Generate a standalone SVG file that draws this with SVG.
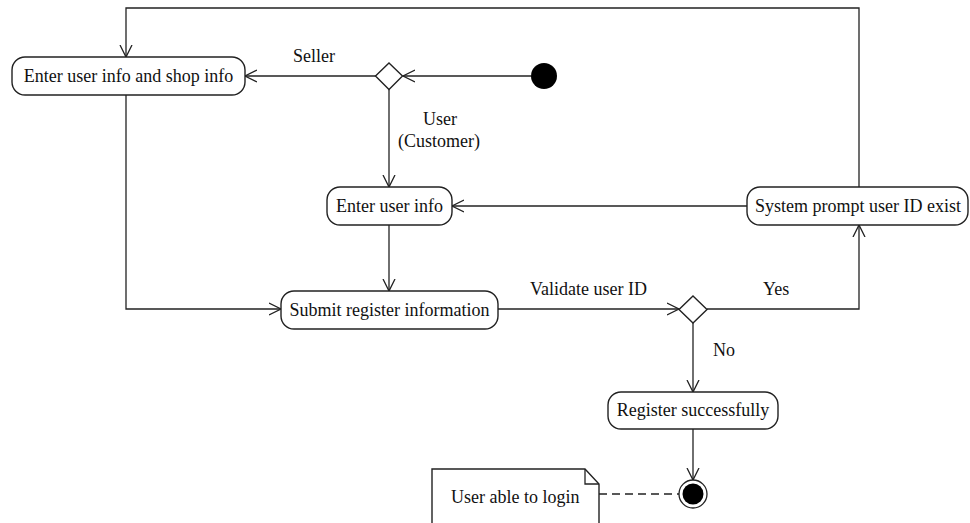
<svg xmlns="http://www.w3.org/2000/svg" width="970" height="523" viewBox="0 0 970 523">
<defs>
<marker id="arr" markerWidth="14" markerHeight="14" refX="12" refY="7" orient="auto" markerUnits="userSpaceOnUse">
<path d="M0,1 L12,7 L0,13" fill="none" stroke="#222" stroke-width="1.3"/>
</marker>
<style>
.n{fill:#fff;stroke:#222;stroke-width:1.4}
.t{font-family:"Liberation Serif","Times New Roman",serif;font-size:18px;fill:#111}
.c{fill:none;stroke:#222;stroke-width:1.3}
</style>
</defs>
<rect width="970" height="523" fill="#fff"/>
<g id="connectors">
<path class="c" d="M859,187 V8 H126 V57" marker-end="url(#arr)"/>
<path class="c" d="M531,76 H403" marker-end="url(#arr)"/>
<path class="c" d="M376,76 H245" marker-end="url(#arr)"/>
<path class="c" d="M389,89 V187" marker-end="url(#arr)"/>
<path class="c" d="M389,225 V291" marker-end="url(#arr)"/>
<path class="c" d="M126,95 V309 H281" marker-end="url(#arr)"/>
<path class="c" d="M498,309 H679" marker-end="url(#arr)"/>
<path class="c" d="M707,309 H859 V225" marker-end="url(#arr)"/>
<path class="c" d="M747,206 H452" marker-end="url(#arr)"/>
<path class="c" d="M693,323 V392" marker-end="url(#arr)"/>
<path class="c" d="M693,429 V480" marker-end="url(#arr)"/>
<path class="c" d="M599,494 H679" stroke-dasharray="8,5"/>
<text class="t" x="293" y="62">Seller</text>
<text class="t" x="423" y="125">User</text>
<text class="t" x="398" y="147">(Customer)</text>
<text class="t" x="530" y="295">Validate user ID</text>
<text class="t" x="763" y="295">Yes</text>
<text class="t" x="713" y="356">No</text>
</g>
<g id="start">
<circle cx="544" cy="76" r="13" fill="#000"/>
</g>
<g id="decision1">
<polygon class="n" points="389,63 402.5,76 389,89.5 375.5,76"/>
</g>
<g id="node-shop">
<rect class="n" x="12" y="57" width="233" height="38" rx="13"/>
<text class="t" x="128.5" y="82" text-anchor="middle">Enter user info and shop info</text>
</g>
<g id="node-user">
<rect class="n" x="327" y="187" width="125" height="38" rx="13"/>
<text class="t" x="389.5" y="212" text-anchor="middle">Enter user info</text>
</g>
<g id="node-submit">
<rect class="n" x="281" y="291" width="217" height="38" rx="13"/>
<text class="t" x="389.5" y="316" text-anchor="middle">Submit register information</text>
</g>
<g id="node-prompt">
<rect class="n" x="747" y="187" width="221" height="38" rx="13"/>
<text class="t" x="858" y="212" text-anchor="middle">System prompt user ID exist</text>
</g>
<g id="decision2">
<polygon class="n" points="693,296 707,309.5 693,323 679,309.5"/>
</g>
<g id="node-register">
<rect class="n" x="608" y="392" width="170" height="37" rx="13"/>
<text class="t" x="693" y="416" text-anchor="middle">Register successfully</text>
</g>
<g id="end">
<circle cx="693" cy="494" r="14" fill="#fff" stroke="#222" stroke-width="1.3"/>
<circle cx="693" cy="494" r="10.5" fill="#000"/>
</g>
<g id="note">
<path class="n" d="M432,530 V469 H585 L599,484 V530"/>
<path class="c" d="M585,469 V484 H599"/>
<text class="t" x="451" y="503">User able to login</text>
</g>
</svg>
